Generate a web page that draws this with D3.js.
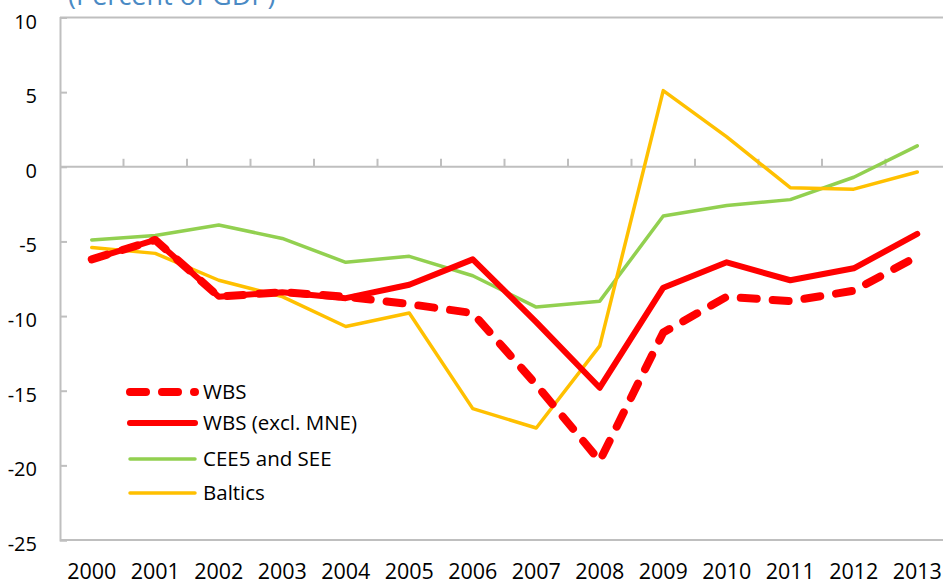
<!DOCTYPE html>
<html><head><meta charset="utf-8">
<script src="https://cdn.jsdelivr.net/npm/d3@7"></script>
<style>
html,body{margin:0;padding:0;background:#fff;}
svg{display:block;font-family:"Open Sans",sans-serif;}
</style></head>
<body><svg id="c" width="943" height="584"></svg>
<script>
const years = ["2000","2001","2002","2003","2004","2005","2006","2007","2008","2009","2010","2011","2012","2013"];
const wbs        = [-6.2,-4.9,-8.7,-8.4,-8.7,-9.2,-9.8,-14.6,-19.7,-11.1,-8.7,-9.0,-8.3,-6.0];
const wbsExclMne = [-6.2,-4.9,-8.7,-8.4,-8.8,-7.9,-6.2,-10.4,-14.8,-8.1,-6.4,-7.6,-6.8,-4.5];
const cee5See    = [-4.9,-4.6,-3.9,-4.8,-6.4,-6.0,-7.3,-9.4,-9.0,-3.3,-2.6,-2.2,-0.7,1.4];
const baltics    = [-5.4,-5.8,-7.6,-8.7,-10.7,-9.8,-16.2,-17.5,-12.0,5.1,2.0,-1.4,-1.5,-0.35];
const yTicks = [10,5,0,-5,-10,-15,-20,-25];
const seriesNames = ["WBS","WBS (excl. MNE)","CEE5 and SEE","Baltics"];
const title = "(Percent of GDP)";

const series = [
  {name: seriesNames[0], values: wbs, color: "#ff0000", width: 8, dash: "16 16"},
  {name: seriesNames[1], values: wbsExclMne, color: "#ff0000", width: 6, dash: null},
  {name: seriesNames[2], values: cee5See, color: "#92d050", width: 3.5, dash: null},
  {name: seriesNames[3], values: baltics, color: "#ffc000", width: 3.5, dash: null}
];

const svg = d3.select("#c");
const pL = 60, pT = 17.5, pB = 540, pR = 60 + 14 * 63.5;
const x = d3.scaleBand().domain(years).range([pL, pR]);
const y = d3.scaleLinear().domain([-25, 10]).range([pB, pT]);
const axisColor = "#bfbfbf";

// title (cut at top)
svg.append("text").attr("x", 68).attr("y", 5).attr("font-size", 27)
  .attr("fill", "#4a8ac4").text(title);

// plot border (top, bottom)
const g = svg.append("g");
g.append("line").attr("x1", pL).attr("x2", pR).attr("y1", y(10)).attr("y2", y(10))
  .attr("stroke", axisColor).attr("stroke-width", 2);
g.append("line").attr("x1", pL).attr("x2", pR).attr("y1", y(-25)).attr("y2", y(-25))
  .attr("stroke", axisColor).attr("stroke-width", 2);

// y axis
const yAxis = d3.axisRight(y).tickValues(yTicks).tickSize(7).tickFormat("");
const ya = svg.append("g").attr("transform", `translate(${pL},0)`).call(yAxis);
ya.select(".domain").attr("stroke", axisColor).attr("stroke-width", 2);
ya.selectAll(".tick line").attr("stroke", axisColor).attr("stroke-width", 2);
svg.append("g").selectAll("text").data(yTicks).join("text")
  .attr("x", 37).attr("y", d => y(d) + 4).attr("dy", "0.35em")
  .attr("text-anchor", "end").attr("font-size", 20).attr("fill", "#000")
  .text(d => d);

// x axis at zero with ticks upward at category boundaries
const xa = svg.append("g");
xa.append("line").attr("x1", pL).attr("x2", pR).attr("y1", y(0)).attr("y2", y(0))
  .attr("stroke", axisColor).attr("stroke-width", 2);
xa.selectAll("line.t").data(years.slice(1)).join("line").attr("class", "t")
  .attr("x1", d => x(d)).attr("x2", d => x(d))
  .attr("y1", y(0)).attr("y2", y(0) - 8)
  .attr("stroke", axisColor).attr("stroke-width", 2);
svg.append("g").selectAll("text").data(years).join("text")
  .attr("x", d => x(d) + x.bandwidth() / 2).attr("y", 579)
  .attr("text-anchor", "middle").attr("font-size", 21.5).attr("fill", "#000")
  .text(d => d);

// lines
const line = d3.line().x((d, i) => x(years[i]) + x.bandwidth() / 2).y(d => y(d));
const drawOrder = [2, 3, 1, 0];
drawOrder.forEach(k => {
  const s = series[k];
  svg.append("path").datum(s.values).attr("d", line)
    .attr("fill", "none").attr("stroke", s.color).attr("stroke-width", s.width)
    .attr("stroke-linejoin", "round").attr("stroke-linecap", "round")
    .attr("stroke-dasharray", s.dash);
});

// legend
const legY = [392, 423, 459, 493];
const leg = svg.append("g");
series.forEach((s, i) => {
  leg.append("line").attr("x1", 130).attr("x2", 195).attr("y1", legY[i]).attr("y2", legY[i])
    .attr("stroke", s.color).attr("stroke-width", s.width)
    .attr("stroke-linecap", "round").attr("stroke-dasharray", s.dash);
  leg.append("text").attr("x", 203).attr("y", legY[i]).attr("dy", "0.36em")
    .attr("font-size", 20.5).attr("fill", "#000").text(s.name);
});
</script></body></html>
